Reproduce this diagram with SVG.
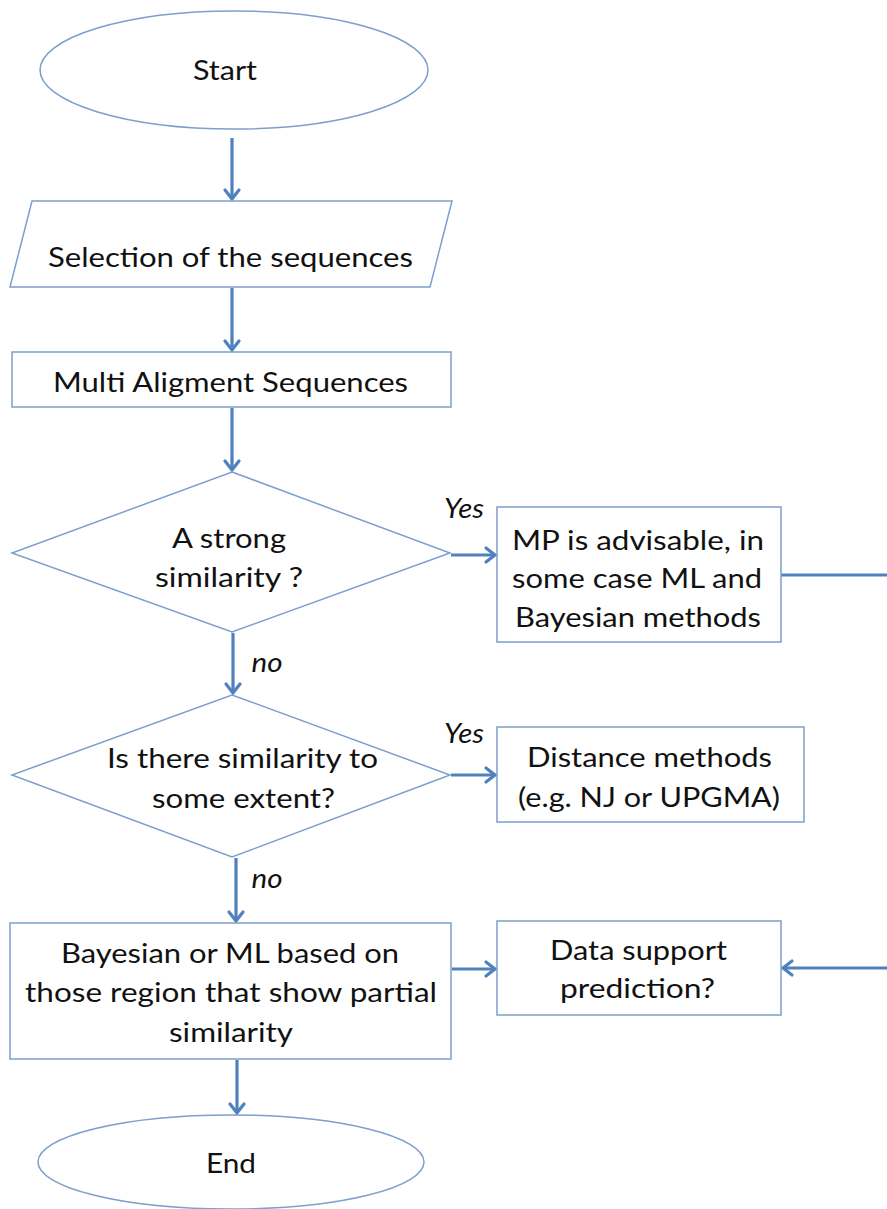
<svg xmlns="http://www.w3.org/2000/svg" width="887" height="1209" viewBox="0 0 887 1209">
<style>
.shape{fill:#ffffff;stroke:#7d9fcb;stroke-width:1.5}
.conn{fill:none;stroke:#4f81bd;stroke-width:3.2;marker-end:url(#arr)}
.plain{fill:none;stroke:#4f81bd;stroke-width:3.2}
.t{font-family:Lato,"Open Sans","Liberation Sans",sans-serif;font-size:27px;fill:#111;text-anchor:middle}
.lbl{font-family:Lato,"Open Sans","Liberation Sans",sans-serif;font-size:27px;font-style:italic;fill:#111;text-anchor:middle}
</style>
<defs>
<marker id="arr" markerUnits="userSpaceOnUse" markerWidth="24" markerHeight="24" viewBox="-12 -12 24 24" refX="0" refY="0" orient="auto">
<path d="M-9,-7 L0,0 L-9,7" fill="none" stroke="#4f81bd" stroke-width="3.2" stroke-linecap="round" stroke-linejoin="miter"/>
</marker>
</defs>
<rect width="887" height="1209" fill="#ffffff"/>
<g id="connectors">
<line class="conn" x1="232" y1="138" x2="232" y2="199"/>
<line class="conn" x1="232" y1="288" x2="232" y2="350"/>
<line class="conn" x1="232" y1="408" x2="232" y2="470"/>
<line class="conn" x1="451" y1="555" x2="495" y2="555"/>
<line class="plain" x1="781" y1="575" x2="887" y2="575"/>
<line class="conn" x1="233" y1="633" x2="233" y2="693"/>
<line class="conn" x1="451" y1="775" x2="495" y2="775"/>
<line class="conn" x1="236" y1="858" x2="236" y2="921"/>
<line class="conn" x1="237" y1="1060" x2="237" y2="1113"/>
<line class="conn" x1="452" y1="969" x2="495" y2="969"/>
<line class="conn" x1="887" y1="968" x2="783" y2="968"/>
<text class="lbl" x="464" y="518" textLength="40" lengthAdjust="spacingAndGlyphs">Yes</text>
<text class="lbl" x="267" y="672" textLength="31" lengthAdjust="spacingAndGlyphs">no</text>
<text class="lbl" x="464" y="743" textLength="40" lengthAdjust="spacingAndGlyphs">Yes</text>
<text class="lbl" x="267" y="888" textLength="31" lengthAdjust="spacingAndGlyphs">no</text>
</g>
<g id="start">
<ellipse class="shape" cx="234" cy="70" rx="194" ry="59"/>
<text class="t" x="225" y="80" textLength="64" lengthAdjust="spacingAndGlyphs">Start</text>
</g>
<g id="selection">
<polygon class="shape" points="32,201 452,201 430,287 10,287"/>
<text class="t" x="230.5" y="267" textLength="365" lengthAdjust="spacingAndGlyphs">Selection of the sequences</text>
</g>
<g id="multi">
<rect class="shape" x="12" y="352" width="439" height="55"/>
<text class="t" x="230.5" y="392" textLength="355" lengthAdjust="spacingAndGlyphs">Multi Aligment Sequences</text>
</g>
<g id="decision1">
<polygon class="shape" points="232,472 450,553 232,632 12,553"/>
<text class="t" x="229" y="548" textLength="114" lengthAdjust="spacingAndGlyphs">A strong</text>
<text class="t" x="229" y="587" textLength="148" lengthAdjust="spacingAndGlyphs">similarity ?</text>
</g>
<g id="mp">
<rect class="shape" x="497" y="507" width="284" height="135"/>
<text class="t" x="638" y="550" textLength="252" lengthAdjust="spacingAndGlyphs">MP is advisable, in</text>
<text class="t" x="637" y="588" textLength="250" lengthAdjust="spacingAndGlyphs">some case ML and</text>
<text class="t" x="638" y="627" textLength="246" lengthAdjust="spacingAndGlyphs">Bayesian methods</text>
</g>
<g id="decision2">
<polygon class="shape" points="232,695 450,775 232,857 12,775"/>
<text class="t" x="242.5" y="768" textLength="271" lengthAdjust="spacingAndGlyphs">Is there similarity to</text>
<text class="t" x="243.5" y="808" textLength="183" lengthAdjust="spacingAndGlyphs">some extent?</text>
</g>
<g id="distance">
<rect class="shape" x="497" y="727" width="307" height="95"/>
<text class="t" x="649.5" y="767" textLength="245" lengthAdjust="spacingAndGlyphs">Distance methods</text>
<text class="t" x="649" y="807" textLength="262" lengthAdjust="spacingAndGlyphs">(e.g. NJ or UPGMA)</text>
</g>
<g id="bayesian">
<rect class="shape" x="10" y="923" width="441" height="136"/>
<text class="t" x="230" y="963" textLength="338" lengthAdjust="spacingAndGlyphs">Bayesian or ML based on</text>
<text class="t" x="231" y="1002" textLength="412" lengthAdjust="spacingAndGlyphs">those region that show partial</text>
<text class="t" x="231" y="1042" textLength="124" lengthAdjust="spacingAndGlyphs">similarity</text>
</g>
<g id="data">
<rect class="shape" x="497" y="921" width="284" height="94"/>
<text class="t" x="638.5" y="960" textLength="177" lengthAdjust="spacingAndGlyphs">Data support</text>
<text class="t" x="637.5" y="998" textLength="155" lengthAdjust="spacingAndGlyphs">prediction?</text>
</g>
<g id="end">
<ellipse class="shape" cx="231" cy="1162" rx="193" ry="47"/>
<text class="t" x="231" y="1173" textLength="50" lengthAdjust="spacingAndGlyphs">End</text>
</g>
</svg>
